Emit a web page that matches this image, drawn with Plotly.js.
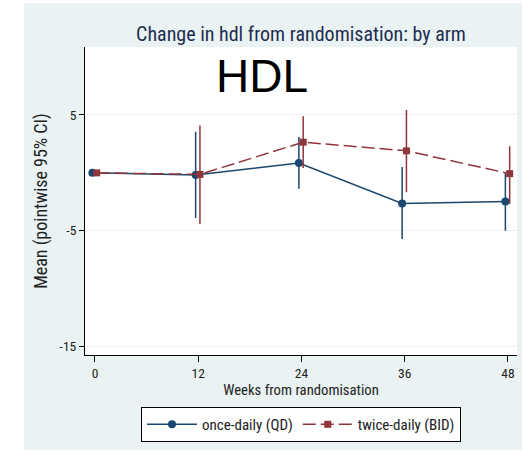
<!DOCTYPE html>
<html><head><meta charset="utf-8">
<script src="https://cdn.plot.ly/plotly-3.0.1.min.js"></script>
<style>html,body{margin:0;padding:0;background:#fff}#chart{width:525px;height:455px}</style>
</head><body><div id="chart"></div>
<script>
const weeks = [0, 12, 24, 36, 48];
const tickLabels = ['0', '12', '24', '36', '48'];
const qdMean = [0.0, -0.19, 0.85, -2.65, -2.48];
const qdUpper = [0.0, 3.55, 3.1, 0.5, -0.02];
const qdLower = [0.0, -3.9, -1.38, -5.72, -5.0];
const bidMean = [0.0, -0.13, 2.65, 1.9, -0.07];
const bidUpper = [0.0, 4.1, 4.9, 5.43, 2.3];
const bidLower = [0.0, -4.42, 0.42, -1.67, -2.68];
const qdOffset = -0.3, bidOffset = 0.2;

const narrow = '"Roboto Condensed", "DejaVu Sans Condensed", sans-serif';
const blue = '#1a476f', red = '#90353b', bg = '#eaf2f3';

const traces = [
  {
    x: weeks.map(w => w + qdOffset), y: qdMean, name: 'once-daily (QD)',
    mode: 'lines+markers', type: 'scatter',
    line: {color: blue, width: 1.5},
    marker: {symbol: 'circle', size: 8, color: blue},
    error_y: {type: 'data', symmetric: false,
      array: qdUpper.map((u, i) => u - qdMean[i]),
      arrayminus: qdMean.map((m, i) => m - qdLower[i]),
      color: blue, thickness: 1.5, width: 0}
  },
  {
    x: weeks.map(w => w + bidOffset), y: bidMean, name: 'twice-daily (BID)',
    mode: 'lines+markers', type: 'scatter',
    line: {color: red, width: 1.5, dash: '13px,5px'},
    marker: {symbol: 'square', size: 7, color: red},
    error_y: {type: 'data', symmetric: false,
      array: bidUpper.map((u, i) => u - bidMean[i]),
      arrayminus: bidMean.map((m, i) => m - bidLower[i]),
      color: red, thickness: 1.5, width: 0}
  }
];

const layout = {
  width: 525, height: 455,
  margin: {l: 85, r: 8, t: 47, b: 100},
  paper_bgcolor: '#ffffff', plot_bgcolor: 'rgba(0,0,0,0)',
  font: {family: narrow, size: 13, color: '#222'},
  title: {text: 'Change in hdl from randomisation: by arm', x: 0.5, xref: 'paper',
    y: 1 - 34/455, yref: 'container', yanchor: 'middle', xanchor: 'center',
    font: {family: narrow, size: 20, color: '#1e2d4f'}},
  xaxis: {range: [-1.16, 49.05], tickvals: weeks, ticktext: tickLabels,
    showgrid: false, zeroline: false, showline: true, linecolor: '#000', linewidth: 1,
    ticks: 'outside', ticklen: 6, tickcolor: '#000',
    tickfont: {family: narrow, size: 13.5, color: '#222'},
    title: {text: 'Weeks from randomisation', standoff: 0, font: {family: narrow, size: 14.7, color: '#222'}}},
  yaxis: {range: [-15.73, 10.87], tickvals: [5, -5, -15], ticktext: ['5', '-5', '-15'],
    showgrid: true, gridcolor: bg, gridwidth: 1, zeroline: false,
    showline: true, linecolor: '#000', linewidth: 1,
    ticks: 'outside', ticklen: 5, tickcolor: '#000',
    tickfont: {family: narrow, size: 13.5, color: '#222'},
    title: {text: 'Mean (pointwise 95% CI)', standoff: 7, font: {family: narrow, size: 18, color: '#222'}}},
  showlegend: true,
  legend: {orientation: 'h', x: 0.5, xanchor: 'center', y: -0.169, yanchor: 'top',
    bgcolor: '#fff', bordercolor: '#000', borderwidth: 1, itemwidth: 50,
    font: {family: narrow, size: 15, color: '#222'}},
  shapes: [
    {type: 'rect', xref: 'paper', yref: 'paper', x0: -0.141, x1: 1.0116, y0: -0.3084, y1: 1.1429,
      fillcolor: bg, line: {width: 0}, layer: 'below'},
    {type: 'rect', xref: 'paper', yref: 'paper', x0: 0, x1: 1, y0: 0, y1: 1,
      fillcolor: '#fff', line: {width: 0}, layer: 'below'}
  ],
  annotations: [
    {text: 'HDL', xref: 'paper', yref: 'paper', x: 0.41, y: 0.905, showarrow: false,
      xanchor: 'center', yanchor: 'middle',
      font: {family: '"Liberation Sans", Arial, sans-serif', size: 46, color: '#000'}}
  ]
};

Plotly.newPlot('chart', traces, layout, {displayModeBar: false, staticPlot: true});
</script>
</body></html>
